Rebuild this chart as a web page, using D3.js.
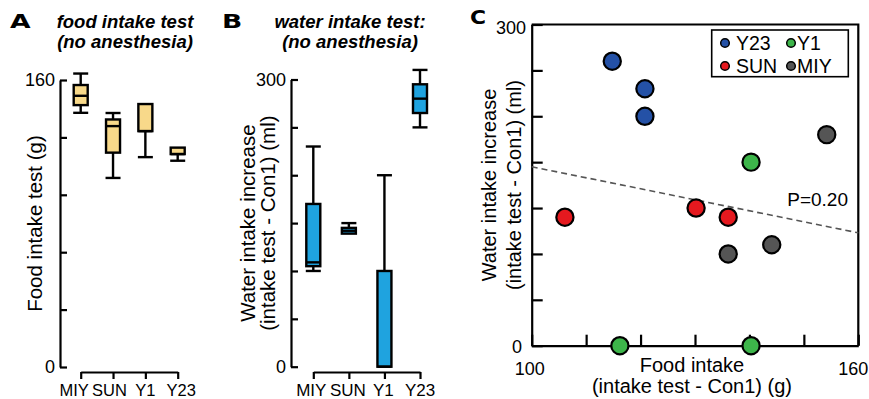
<!DOCTYPE html>
<html>
<head>
<meta charset="utf-8">
<script src="https://cdn.jsdelivr.net/npm/d3@7"></script>
<style>
  body { margin: 0; background: #fff; }
  svg { display: block; font-family: "Liberation Sans", Arial, sans-serif; }
  .box { stroke: #000; stroke-width: 2.4; }
  .whisker { stroke: #000; stroke-width: 2.4; }
  .ax { stroke: #000; stroke-width: 2.2; fill: none; }
</style>
</head>
<body>
<div id="chart"></div>
<script>
// categories shared by A and B
let groups = ["MIY", "SUN", "Y1", "Y23"]

// A: food intake test (g) -- box stats per group
let foodLo  = [141.7, 105.4, 117.0, 115.0]
let foodQ1  = [146.0, 119.5, 131.5, 118.7]
let foodMed = [151.2, 134.3, 131.5, 118.7]
let foodQ3  = [157.2, 138.0, 146.6, 122.3]
let foodHi  = [163.6, 141.6, 146.6, 122.3]

// B: water intake increase (ml)
let waterLo  = [100, 139, 0, 250]
let waterQ1  = [105, 139, 0, 265]
let waterMed = [109, 142, 0, 280]
let waterQ3  = [170, 145, 100, 295]
let waterHi  = [230, 150, 200, 310]

// C: scatter food vs water
let scGroup = ["Y23", "Y23", "Y23", "Y1", "Y1", "Y1", "SUN", "SUN", "SUN", "MIY", "MIY", "MIY"]
let scFood  = [114.8, 120.8, 120.8, 140.3, 116.2, 140.3, 106.1, 130.2, 136.1, 136.1, 144.1, 154.2]
let scWater = [310, 280, 250, 200, 0, 0, 140, 150, 140, 100, 110, 230]
let trendFood  = [100, 160]
let trendWater = [195, 123]
let legendOrder = ["Y23", "Y1", "SUN", "MIY"]
let groupColor = { Y23: "#2451a6", Y1: "#3db54a", SUN: "#e5191f", MIY: "#555555" }

let svg = d3.select("#chart").append("svg")
    .attr("width", 869)
    .attr("height", 399)

// ---------- boxplot panel ----------
let boxPanel = function(opt) {
  let stats = groups.map(function(g, i) {
    return { g: g, lo: opt.lo[i], q1: opt.q1[i], med: opt.med[i], q3: opt.q3[i], hi: opt.hi[i] }
  })
  let y = d3.scaleLinear().domain(opt.domain).range([opt.y0, opt.y1])
  let x = d3.scalePoint().domain(groups).range([opt.x0, opt.x1])

  // y axis: line with inner ticks
  let yAxis = d3.axisRight(y).tickValues(d3.range(opt.domain[0], opt.domain[1] + 1, opt.step))
      .tickSize(7).tickSizeOuter(0).tickFormat("")
  let gy = svg.append("g").attr("transform", "translate(" + opt.ax + ",0)").call(yAxis)
  gy.selectAll("path, line").attr("stroke", "#000").attr("stroke-width", 2.2)

  svg.selectAll(null).data(opt.domain).enter().append("text")
      .attr("x", opt.ax - 5)
      .attr("y", function(d) { return y(d) })
      .attr("dy", "0.36em")
      .attr("text-anchor", "end")
      .attr("font-size", "18px")
      .text(function(d) { return d })

  // x axis: bracket under the boxes
  let xAxis = d3.axisBottom(x).tickSize(7).tickSizeOuter(0).tickFormat("")
  let gx = svg.append("g").attr("transform", "translate(0,372)").call(xAxis)
  gx.selectAll("path, line").attr("stroke", "#000").attr("stroke-width", 2.2)

  svg.selectAll(null).data(groups).enter().append("text")
      .attr("x", function(d, i) { return x(d) + opt.labelShift[i] })
      .attr("y", 396)
      .attr("text-anchor", "middle")
      .attr("font-size", opt.labelSize)
      .text(function(d) { return d })

  let bw = 14, cw = 15
  let b = svg.append("g")
  let boxes = b.selectAll(".bx").data(stats).enter().append("g")

  boxes.append("line").attr("class", "whisker")
      .attr("x1", function(d) { return x(d.g) }).attr("x2", function(d) { return x(d.g) })
      .attr("y1", function(d) { return y(d.hi) }).attr("y2", function(d) { return y(d.q3) })
  boxes.append("line").attr("class", "whisker")
      .attr("x1", function(d) { return x(d.g) }).attr("x2", function(d) { return x(d.g) })
      .attr("y1", function(d) { return y(d.q1) }).attr("y2", function(d) { return y(d.lo) })
  // caps only where the whisker sticks out of the box
  boxes.filter(function(d) { return d.hi > d.q3 }).append("line").attr("class", "whisker")
      .attr("x1", function(d) { return x(d.g) - cw / 2 }).attr("x2", function(d) { return x(d.g) + cw / 2 })
      .attr("y1", function(d) { return y(d.hi) }).attr("y2", function(d) { return y(d.hi) })
  boxes.filter(function(d) { return d.lo < d.q1 }).append("line").attr("class", "whisker")
      .attr("x1", function(d) { return x(d.g) - cw / 2 }).attr("x2", function(d) { return x(d.g) + cw / 2 })
      .attr("y1", function(d) { return y(d.lo) }).attr("y2", function(d) { return y(d.lo) })
  boxes.append("rect").attr("class", "box")
      .attr("x", function(d) { return x(d.g) - bw / 2 })
      .attr("width", bw)
      .attr("y", function(d) { return y(d.q3) })
      .attr("height", function(d) { return y(d.q1) - y(d.q3) })
      .attr("fill", opt.fill)
  boxes.append("line").attr("class", "whisker")
      .attr("x1", function(d) { return x(d.g) - bw / 2 }).attr("x2", function(d) { return x(d.g) + bw / 2 })
      .attr("y1", function(d) { return y(d.med) }).attr("y2", function(d) { return y(d.med) })

  // titles
  svg.append("text").attr("x", opt.letterX).attr("y", 28)
      .attr("font-family", "DejaVu Sans").attr("font-weight", "900").attr("font-size", "19px")
      .attr("transform", "translate(" + (-opt.letterX * 0.4) + ",0) scale(1.4,1)")
      .text(opt.letter)
  opt.title.forEach(function(t, i) {
    svg.append("text").attr("x", opt.titleX).attr("y", 28 + i * 20)
        .attr("text-anchor", "middle").attr("font-size", "18.5px")
        .attr("font-weight", "bold").attr("font-style", "italic")
        .text(t)
  })

  // y title
  let yMid = (opt.y0 + opt.y1) / 2
  opt.yTitle.forEach(function(t, i) {
    svg.append("text")
        .attr("transform", "translate(" + opt.yTitleX[i] + "," + yMid + ") rotate(-90)")
        .attr("text-anchor", "middle").attr("font-size", "20.5px")
        .text(t)
  })
}

boxPanel({
  domain: [0, 160], step: 32, y0: 367, y1: 80, x0: 80.7, x1: 177.7, ax: 60,
  lo: foodLo, q1: foodQ1, med: foodMed, q3: foodQ3, hi: foodHi,
  fill: "#f8d98a", labelShift: [-6.5, -3.5, 0, 3.5], labelSize: "16.5px",
  letter: "A", letterX: 10, titleX: 125,
  title: ["food intake test", "(no anesthesia)"],
  yTitle: ["Food intake test (g)"], yTitleX: [42]
})

boxPanel({
  domain: [0, 300], step: 50, y0: 366.7, y1: 79.5, x0: 313.3, x1: 420, ax: 291,
  lo: waterLo, q1: waterQ1, med: waterMed, q3: waterQ3, hi: waterHi,
  fill: "#1fa3df", labelShift: [-2, -1, -1, 0], labelSize: "17px",
  letter: "B", letterX: 222, titleX: 350,
  title: ["water intake test:", "(no anesthesia)"],
  yTitle: ["Water intake increase", "(intake test - Con1) (ml)"], yTitleX: [255, 275]
})

// ---------- C: scatter ----------
let cx = d3.scaleLinear().domain([100, 160]).range([531.7, 858.3])
let cy = d3.scaleLinear().domain([0, 350]).range([345.7, 24.5])

let yAxC = d3.axisRight(cy).tickValues(d3.range(0, 351, 50)).tickSize(11).tickSizeOuter(0).tickFormat("")
let gyc = svg.append("g").attr("transform", "translate(" + cx(100) + ",0)").call(yAxC)
gyc.selectAll("path, line").attr("stroke", "#000").attr("stroke-width", 2.2)
let xAxC = d3.axisTop(cx).tickValues(d3.range(100, 161, 10)).tickSize(11).tickSizeOuter(0).tickFormat("")
let gxc = svg.append("g").attr("transform", "translate(0," + cy(0) + ")").call(xAxC)
gxc.selectAll("path, line").attr("stroke", "#000").attr("stroke-width", 2.2)
// top and right edges of the frame
svg.append("path").attr("class", "ax")
    .attr("d", "M" + cx(100) + "," + cy(350) + "H" + cx(160) + "V" + cy(0))

// tick labels, the top one is printed as 300 in the source
svg.append("text").attr("x", 526).attr("y", cy(350)).attr("dy", "0.55em")
    .attr("text-anchor", "end").attr("font-size", "18px").text("300")
svg.append("text").attr("x", 522).attr("y", cy(0)).attr("dy", "0.4em")
    .attr("text-anchor", "end").attr("font-size", "18px").text("0")
svg.selectAll(null).data([100, 160]).enter().append("text")
    .attr("x", function(d, i) { return cx(d) + (i ? -5 : -2) })
    .attr("y", 375)
    .attr("text-anchor", "middle").attr("font-size", "18px")
    .text(function(d) { return d })

svg.append("text").attr("x", 692).attr("y", 371.5).attr("text-anchor", "middle")
    .attr("font-size", "20px").text("Food intake")
svg.append("text").attr("x", 692).attr("y", 393).attr("text-anchor", "middle")
    .attr("font-size", "20px").text("(intake test - Con1) (g)")
;["Water intake increase", "(intake test - Con1) (ml)"].forEach(function(t, i) {
  svg.append("text")
      .attr("transform", "translate(" + (496 + i * 25) + ",185) rotate(-90)")
      .attr("text-anchor", "middle").attr("font-size", "20px")
      .text(t)
})
svg.append("text").attr("x", 470).attr("y", 24)
    .attr("font-family", "DejaVu Sans").attr("font-weight", "900").attr("font-size", "19px")
    .attr("transform", "translate(" + (-470 * 0.15) + ",0) scale(1.15,1)")
    .text("C")

// trend line
svg.append("line")
    .attr("x1", cx(trendFood[0])).attr("y1", cy(trendWater[0]))
    .attr("x2", cx(trendFood[1])).attr("y2", cy(trendWater[1]))
    .attr("stroke", "#555").attr("stroke-width", 1.6).attr("stroke-dasharray", "6,4")
svg.append("text").attr("x", 848).attr("y", 206).attr("text-anchor", "end")
    .attr("font-size", "19px").text("P=0.20")

// points
svg.selectAll(".pt").data(scFood).enter().append("circle")
    .attr("class", "pt")
    .attr("cx", function(d) { return cx(d) })
    .attr("cy", function(d, i) { return cy(scWater[i]) })
    .attr("r", 8.6)
    .attr("fill", function(d, i) { return groupColor[scGroup[i]] })
    .attr("stroke", "#000").attr("stroke-width", 2.2)

// legend
svg.append("rect").attr("x", 711.7).attr("y", 30).attr("width", 136.6).attr("height", 46.7)
    .attr("fill", "#fff").attr("stroke", "#000").attr("stroke-width", 1.6)
let leg = svg.selectAll(".lg").data(legendOrder).enter().append("g")
    .attr("transform", function(d, i) { return "translate(" + (725 + (i % 2) * 66) + "," + (43 + Math.floor(i / 2) * 23) + ")" })
leg.append("circle").attr("r", 4.3)
    .attr("fill", function(d) { return groupColor[d] })
    .attr("stroke", "#000").attr("stroke-width", 1.5)
leg.append("text").attr("x", function(d, i) { return i % 2 ? 6 : 11 }).attr("y", 7)
    .attr("font-size", "19.5px")
    .text(function(d) { return d })
</script>
</body>
</html>
